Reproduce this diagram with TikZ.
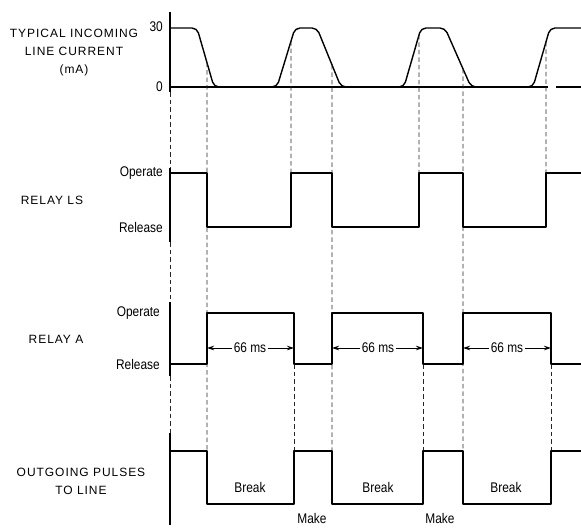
\documentclass[tikz,border=0pt]{standalone}
\usepackage{fontspec}
\setmainfont[FakeStretch=0.85]{Liberation Sans}
\newfontfamily\capsfont[LetterSpace=8]{Liberation Sans}
\usetikzlibrary{arrows.meta,intersections}
\tikzset{
  wave/.style       = {line width=1.4pt, line join=round},
  axisline/.style   = {line width=1.1pt},
  guide/.style      = {line width=0.7pt, dash pattern=on 4.5pt off 3pt, black!85},
  trace name/.style = {font=\capsfont\fontsize{12}{18}\selectfont, align=center},
  level/.style      = {font=\fontsize{14}{16}\selectfont, anchor=east, inner sep=1pt},
  note/.style       = {font=\fontsize{14}{16}\selectfont, inner sep=2pt},
  timing/.style     = {-{Stealth[length=7pt,width=4.5pt]}, line width=0.9pt},
}

\begin{document}
\begin{tikzpicture}[x=1pt,y=-1pt]
  \useasboundingbox (0,0) rectangle (581,528);

  % ---------------- trace names ------------------------------------------
  \node[trace name] (curname) at (74,53)  {TYPICAL INCOMING\\LINE CURRENT\\(mA)};
  \node[trace name] (lsname)  at (52,200) {RELAY LS};
  \node[trace name] (aname)   at (56,339) {RELAY A};
  \node[trace name] (outname) at (81,481) {OUTGOING PULSES\\TO LINE};

  % ---------------- level labels -----------------------------------------
  \node[level] (cur30)  at (164,27)  {30};
  \node[level] (cur0)   at (164,87)  {0};
  \node[level] (lsop)   at (164,173) {Operate};
  \node[level] (lsrel)  at (164,227) {Release};
  \node[level] (aop)    at (161,313) {Operate};
  \node[level] (arel)   at (161,364) {Release};

  % ---------------- axis -------------------------------------------------
  \draw[axisline] (170,12) -- (170,92);
  \draw[axisline] (170,168) -- (170,242);
  \draw[axisline] (170,302) -- (170,376);
  \draw[axisline] (170,433) -- (170,525);
  \draw[guide] (170,92) -- (170,168);
  \draw[guide] (170,242) -- (170,302);
  \draw[guide] (170,376) -- (170,433);
  \draw[axisline] (170,87) -- (548,87);
  \draw[axisline] (556,87) -- (581,87);

  % ---------------- line current -----------------------------------------
  \draw[wave, rounded corners=5pt, name path=cur]
        (170,28) -- (197,28) -- (214,87) -- (277,87) -- (295,28) -- (317,28)
     -- (341,87) -- (404,87) -- (421,28) -- (445,28) -- (471,87) -- (533,87)
     -- (550,28) -- (581,28);

  % ---------------- guide lines ------------------------------------------
  \foreach \x/\y [count=\i] in {207/451, 291/173, 332/451, 419/173, 463/451, 546/173} {
    \path[name path=vl\i] (\x,0) -- (\x,120);
    \draw[guide, name intersections={of=cur and vl\i}] (intersection-1) -- (\x,\y);
  }
  \foreach \x in {294, 423, 551}
    \draw[guide] (\x,364) -- (\x,451);

  % ---------------- relay LS ---------------------------------------------
  \draw[wave] (170,173) -- (207,173) -- (207,227) -- (291,227) -- (291,173)
     -- (332,173) -- (332,227) -- (419,227) -- (419,173) -- (463,173)
     -- (463,227) -- (546,227) -- (546,173) -- (581,173);

  % ---------------- relay A ----------------------------------------------
  \draw[wave] (170,364) -- (207,364) -- (207,313) -- (294,313) -- (294,364)
     -- (332,364) -- (332,313) -- (423,313) -- (423,364) -- (463,364)
     -- (463,313) -- (551,313) -- (551,364) -- (581,364);
  \foreach \c/\l/\r [count=\i] in {250/207/294, 378/332/423, 507/463/551} {
    \node[note] (ms\i) at (\c,348) {66 ms};
    \draw[timing] (ms\i.west) -- (\l,348);
    \draw[timing] (ms\i.east) -- (\r,348);
  }

  % ---------------- outgoing pulses --------------------------------------
  \draw[wave] (170,451) -- (207,451) -- (207,504) -- (294,504) -- (294,451)
     -- (332,451) -- (332,504) -- (423,504) -- (423,451) -- (463,451)
     -- (463,504) -- (551,504) -- (551,451) -- (581,451);
  \node[note] (brk1) at (250,487) {Break};
  \node[note] (brk2) at (378,487) {Break};
  \node[note] (brk3) at (506,487) {Break};
  \node[note] (mk1)  at (312,518) {Make};
  \node[note] (mk2)  at (440,518) {Make};
\end{tikzpicture}
\end{document}
